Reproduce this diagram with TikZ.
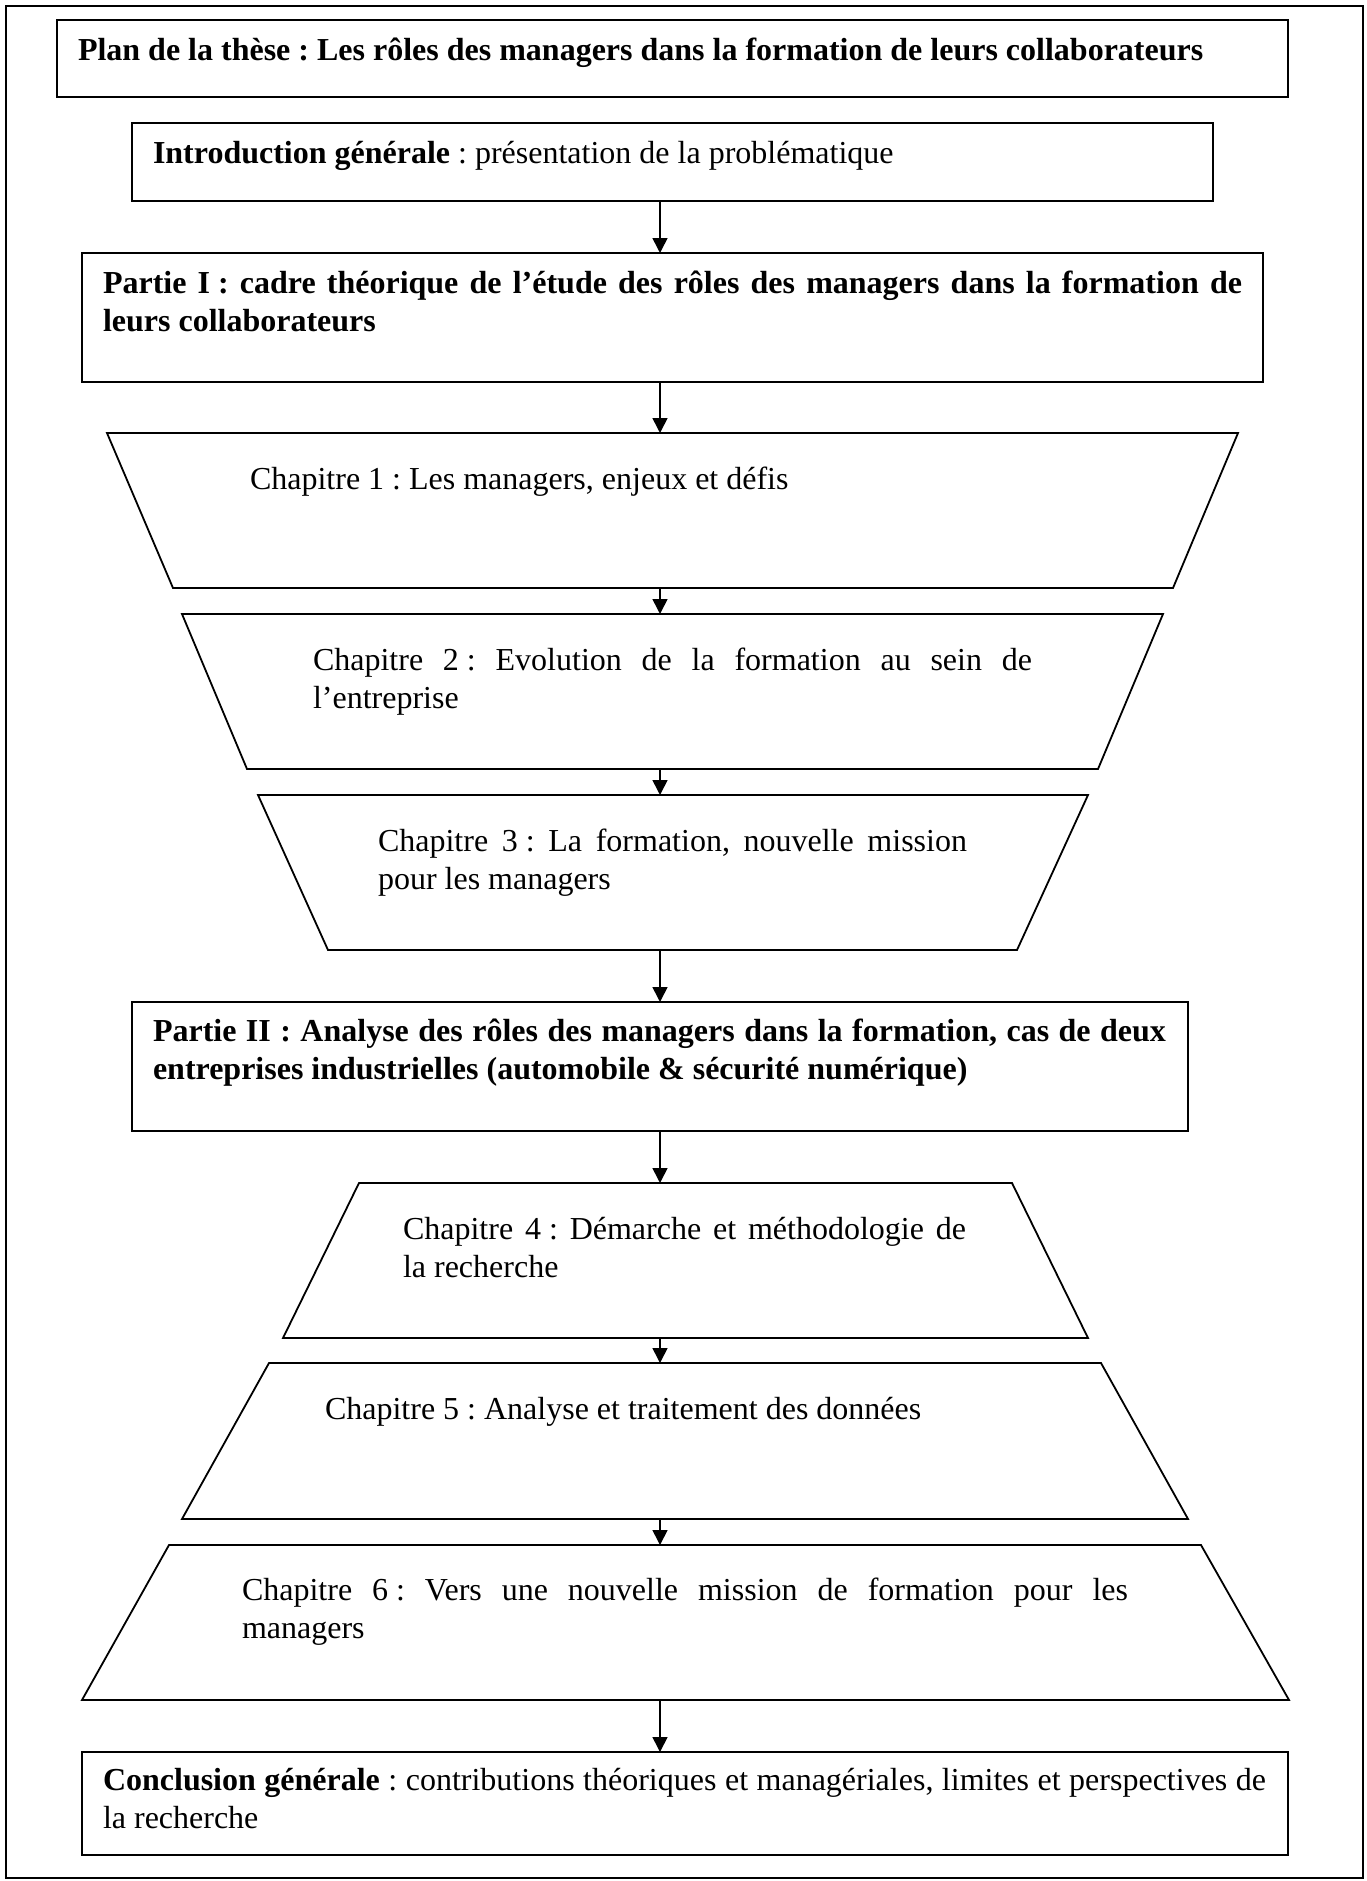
\documentclass[tikz,border=0pt]{standalone}
\usepackage{fontspec}
\setmainfont{Liberation Serif}
\usetikzlibrary{arrows.meta,calc}
\tikzset{
  boxnode/.style={draw=black, line width=1.8pt, rectangle, inner sep=0pt, outer sep=0pt},
  ghost/.style={rectangle, inner sep=0pt, outer sep=0pt},
  shp/.style={draw=black, line width=1.8pt, line join=miter},
  arr/.style={line width=1.6pt, -{Triangle[length=15pt,width=15pt]}},
  txt/.style={inner sep=0pt, outer sep=0pt, anchor=base west, font=\fontsize{32}{38.5}\selectfont\frenchspacing},
}
\newcommand{\rsp}{\spaceskip=0pt\relax\xspaceskip=0pt\relax}
\newcommand{\jline}[2]{\makebox[#1][s]{\rsp #2}}
\begin{document}
\begin{tikzpicture}[x=1pt,y=-1pt]
\useasboundingbox (0,0) rectangle (1366,1881);
% outer frame
\node[boxnode, anchor=north west, minimum width=1357pt, minimum height=1872pt] (outer) at (6,6) {};
% rectangles
\node[boxnode, anchor=north west, minimum width=1231pt, minimum height=77pt] (title) at (57,20) {};
\node[boxnode, anchor=north west, minimum width=1081pt, minimum height=78pt] (intro) at (132,123) {};
\node[boxnode, anchor=north west, minimum width=1181pt, minimum height=129pt] (p1) at (82,253) {};
\node[boxnode, anchor=north west, minimum width=1056pt, minimum height=129pt] (p2) at (132,1002) {};
\node[boxnode, anchor=north west, minimum width=1206pt, minimum height=103pt] (concl) at (82,1752) {};
% trapezoids (bounding nodes)
\node[ghost, anchor=north west, minimum width=1131pt, minimum height=155pt] (c1) at (107,433) {};
\node[ghost, anchor=north west, minimum width=981pt, minimum height=155pt] (c2) at (182,614) {};
\node[ghost, anchor=north west, minimum width=830pt, minimum height=155pt] (c3) at (258,795) {};
\node[ghost, anchor=north west, minimum width=805pt, minimum height=155pt] (c4) at (283,1183) {};
\node[ghost, anchor=north west, minimum width=1006pt, minimum height=156pt] (c5) at (182,1363) {};
\node[ghost, anchor=north west, minimum width=1207pt, minimum height=155pt] (c6) at (82,1545) {};
\draw[shp] (c1.north west) -- (c1.north east) -- ([xshift=-65pt]c1.south east) -- ([xshift=66pt]c1.south west) -- cycle;
\draw[shp] (c2.north west) -- (c2.north east) -- ([xshift=-65pt]c2.south east) -- ([xshift=65pt]c2.south west) -- cycle;
\draw[shp] (c3.north west) -- (c3.north east) -- ([xshift=-71pt]c3.south east) -- ([xshift=70pt]c3.south west) -- cycle;
\draw[shp] ([xshift=76pt]c4.north west) -- ([xshift=-76pt]c4.north east) -- (c4.south east) -- (c4.south west) -- cycle;
\draw[shp] ([xshift=87pt]c5.north west) -- ([xshift=-87pt]c5.north east) -- (c5.south east) -- (c5.south west) -- cycle;
\draw[shp] ([xshift=87pt]c6.north west) -- ([xshift=-88pt]c6.north east) -- (c6.south east) -- (c6.south west) -- cycle;
% arrows
\coordinate (ax) at (660,0);
\draw[arr] (intro.south -| ax) -- (p1.north -| ax);
\draw[arr] (p1.south -| ax) -- (c1.north -| ax);
\draw[arr] (c1.south -| ax) -- (c2.north -| ax);
\draw[arr] (c2.south -| ax) -- (c3.north -| ax);
\draw[arr] (c3.south -| ax) -- (p2.north -| ax);
\draw[arr] (p2.south -| ax) -- (c4.north -| ax);
\draw[arr] (c4.south -| ax) -- (c5.north -| ax);
\draw[arr] (c5.south -| ax) -- (c6.north -| ax);
\draw[arr] (c6.south -| ax) -- (concl.north -| ax);
% texts
\node[txt] (ttitle) at (78,61) {\bfseries Plan de la thèse : Les rôles des managers dans la formation de leurs collaborateurs};
\node[txt] (tintro) at (153,164) {\textbf{Introduction générale} : présentation de la problématique};
\node[txt, text width=1139pt] (tp1) at (103,293) {\rsp\bfseries\jline{1139pt}{Partie \mbox{I :} cadre théorique de l’étude des rôles des managers dans la formation de}\\leurs collaborateurs};
\node[txt] (tc1) at (250,489) {Chapitre 1 : Les managers, enjeux et défis};
\node[txt, text width=719pt] (tc2) at (313,670) {\rsp\jline{719pt}{Chapitre \mbox{2 :} Evolution de la formation au sein de}\\l’entreprise};
\node[txt, text width=589pt] (tc3) at (378,851) {\rsp\jline{589pt}{Chapitre \mbox{3 :} La formation, nouvelle mission}\\pour les managers};
\node[txt, text width=1013pt] (tp2) at (153,1041) {\rsp\bfseries\jline{1013pt}{Partie II : Analyse des rôles des managers dans la formation, cas de deux}\\entreprises industrielles (automobile \& sécurité numérique)};
\node[txt, text width=563pt] (tc4) at (403,1239) {\rsp\jline{563pt}{Chapitre \mbox{4 :} Démarche et méthodologie de}\\la recherche};
\node[txt] (tc5) at (325,1419) {Chapitre 5 : Analyse et traitement des données};
\node[txt, text width=886pt] (tc6) at (242,1600) {\rsp\jline{886pt}{Chapitre \mbox{6 :} Vers une nouvelle mission de formation pour les}\\managers};
\node[txt, text width=1163pt] (tconcl) at (103,1790) {\rsp\jline{1163pt}{\textbf{Conclusion générale} : contributions théoriques et managériales, limites et perspectives de}\\la recherche};
\end{tikzpicture}
\end{document}
